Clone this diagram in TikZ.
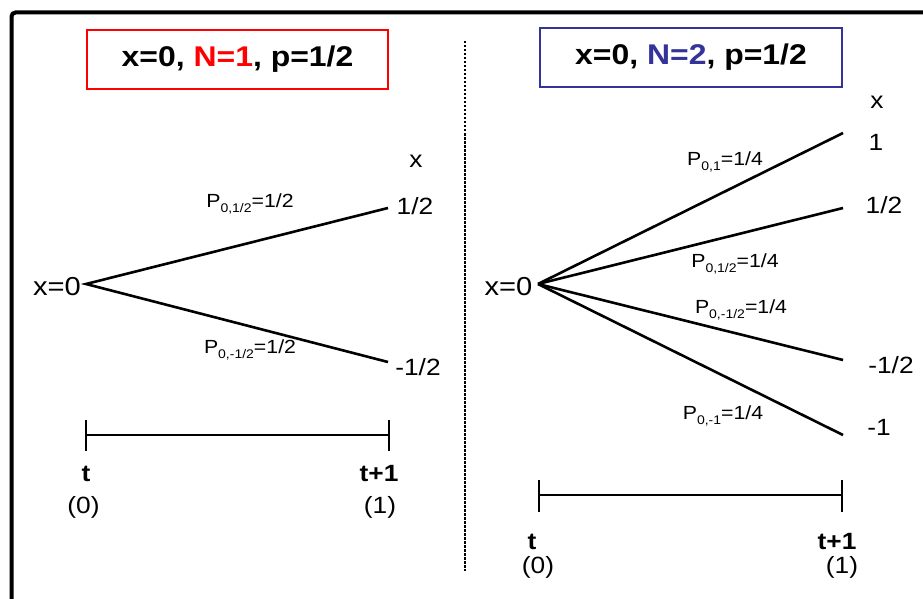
\documentclass[tikz,border=0pt]{standalone}
\usepackage{fontspec}
\setmainfont{Liberation Sans}[FakeStretch=1.12]
\definecolor{boxblue}{RGB}{51,51,153}
\newcommand{\psub}[1]{\raisebox{-0.45ex}{\fontsize{12.5}{12.5}\selectfont #1}}
\begin{document}
\begin{tikzpicture}[x=1pt,y=-1pt,
  tree/.style={line width=2.6pt},
  axisline/.style={line width=2pt},
  lbl/.style={font=\fontsize{23.5}{23.5}\selectfont, inner sep=0pt},
  rootlbl/.style={font=\fontsize{26}{26}\selectfont, inner sep=0pt},
  plbl/.style={font=\fontsize{19}{19}\selectfont, inner sep=0pt},
  tlbl/.style={font=\fontsize{23.5}{23.5}\selectfont\bfseries, inner sep=0pt},
  titlebox/.style={draw, line width=2.5pt, minimum width=301pt, minimum height=59pt, inner sep=0pt,
    font=\fontsize{28.5}{28.5}\selectfont\bfseries}]
\useasboundingbox (0,0) rectangle (923,599);
\fill[white] (0,0) rectangle (923,599);
% frame
\draw[line width=4pt, rounded corners=4pt] (11.5,640) -- (11.5,12.5) -- (960,12.5);
% titles
\node[titlebox, draw=red] (T1) at (237.5,59.5) {x=0, \textcolor{red}{N=1}, p=1/2};
\node[titlebox, draw=boxblue, minimum width=302pt] (T2) at (691,57.5) {x=0, \textcolor{boxblue}{N=2}, p=1/2};
% divider
\coordinate (D1) at (465,41);
\coordinate (D2) at (465,571);
\draw[line width=2.5pt, dash pattern=on 2.5pt off 1.5pt] (D1) -- (D2);

% ---------- left tree ----------
\node[rootlbl] (LX) at (57,287) {x=0};
\coordinate (LR) at (86,284);
\coordinate (LU) at (388,208);
\coordinate (LD) at (388,362);
\draw[tree] (LU) -- (LR) -- (LD);
\node[lbl] (LXh) at (416,161) {x};
\node[lbl] (LUl) at (415,206) {1/2};
\node[lbl] (LDl) at (418,367) {-1/2};
\node[plbl] (LPu) at (250,204) {P\psub{0,1/2}=1/2};
\node[plbl] (LPd) at (250,350) {P\psub{0,-1/2}=1/2};
% left axis
\coordinate (LA0) at (86,435);
\coordinate (LA1) at (389,435);
\draw[axisline] (LA0) -- (LA1);
\draw[axisline] ([yshift=15pt]LA0) -- ([yshift=-16pt]LA0);
\draw[axisline] ([yshift=15pt]LA1) -- ([yshift=-16pt]LA1);
\node[tlbl] (Lt0) at (86,474) {t};
\node[tlbl] (Lt1) at (379,474) {t+1};
\node[lbl] (Ln0) at (83.5,507) {(0)};
\node[lbl] (Ln1) at (380,507) {(1)};

% ---------- right tree ----------
\node[rootlbl] (RX) at (508.5,287) {x=0};
\coordinate (RR) at (538,284);
\coordinate (R1) at (843,133);
\coordinate (R2) at (843,208);
\coordinate (R3) at (843,360);
\coordinate (R4) at (843,435);
\draw[tree] (RR) -- (R1);
\draw[tree] (RR) -- (R2);
\draw[tree] (RR) -- (R3);
\draw[tree] (RR) -- (R4);
\node[lbl] (RXh) at (877,102) {x};
\node[lbl] (R1l) at (876,142) {1};
\node[lbl] (R2l) at (884,205) {1/2};
\node[lbl] (R3l) at (891,365) {-1/2};
\node[lbl] (R4l) at (879,427) {-1};
\node[plbl] (RP1) at (725,162) {P\psub{0,1}=1/4};
\node[plbl] (RP2) at (735,264) {P\psub{0,1/2}=1/4};
\node[plbl] (RP3) at (741,310) {P\psub{0,-1/2}=1/4};
\node[plbl] (RP4) at (723,416) {P\psub{0,-1}=1/4};
% right axis
\coordinate (RA0) at (539,495);
\coordinate (RA1) at (842,495);
\draw[axisline] (RA0) -- (RA1);
\draw[axisline] ([yshift=15pt]RA0) -- ([yshift=-17pt]RA0);
\draw[axisline] ([yshift=15pt]RA1) -- ([yshift=-17pt]RA1);
\node[tlbl] (Rt0) at (532,542) {t};
\node[tlbl] (Rt1) at (837,542) {t+1};
\node[lbl] (Rn0) at (538,567) {(0)};
\node[lbl] (Rn1) at (842,567) {(1)};
\end{tikzpicture}
\end{document}
